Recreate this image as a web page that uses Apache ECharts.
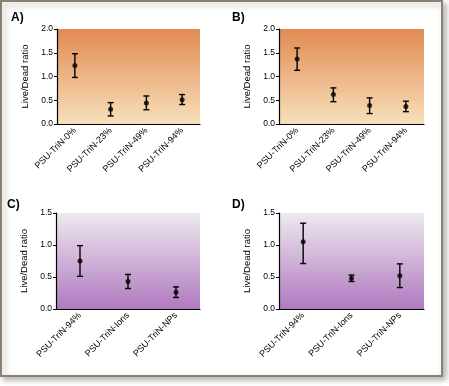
<!DOCTYPE html>
<html><head><meta charset="utf-8">
<script src="https://cdn.jsdelivr.net/npm/echarts@6/dist/echarts.min.js"></script>
<style>html,body{margin:0;padding:0;background:#fff}#c{width:449px;height:386px}</style>
</head><body><div id="c"></div>
<script>
// ---- Data ----
const catsAB = ['PSU-TriN-0%', 'PSU-TriN-23%', 'PSU-TriN-49%', 'PSU-TriN-94%'];
const catsCD = ['PSU-TriN-94%', 'PSU-TriN-Ions', 'PSU-TriN-NPs'];
const meanA = [1.23, 0.31, 0.44, 0.51];
const lowA  = [0.98, 0.17, 0.30, 0.41];
const highA = [1.48, 0.45, 0.59, 0.62];
const meanB = [1.37, 0.62, 0.39, 0.37];
const lowB  = [1.13, 0.47, 0.22, 0.26];
const highB = [1.60, 0.76, 0.55, 0.48];
const meanC = [0.75, 0.43, 0.26];
const lowC  = [0.51, 0.32, 0.18];
const highC = [0.99, 0.54, 0.345];
const meanD = [1.05, 0.48, 0.52];
const lowD  = [0.71, 0.43, 0.335];
const highD = [1.34, 0.53, 0.705];
const yTicksAB = [0, 0.5, 1.0, 1.5, 2.0];
const yTicksCD = [0, 0.5, 1.0, 1.5];
const panelLabels = ['A)', 'B)', 'C)', 'D)'];

const FONT = '"Liberation Sans", Arial, sans-serif';
const orangeGrad = {type:'linear',x:0,y:0,x2:0,y2:1,colorStops:[{offset:0,color:'#e28b52'},{offset:1,color:'#f7e0bb'}]};
const purpleGrad = {type:'linear',x:0,y:0,x2:0,y2:1,colorStops:[{offset:0,color:'#eee9ef'},{offset:1,color:'#b079bf'}]};

const panels = [
  {cats:catsAB, mean:meanA, low:lowA, high:highA, ticks:yTicksAB, grid:{left:57,top:29,width:143,height:95}, bg:orangeGrad, label:{x:11,y:12}},
  {cats:catsAB, mean:meanB, low:lowB, high:highB, ticks:yTicksAB, grid:{left:279,top:29,width:145,height:95}, bg:orangeGrad, label:{x:232,y:12}},
  {cats:catsCD, mean:meanC, low:lowC, high:highC, ticks:yTicksCD, grid:{left:56,top:213,width:144,height:96}, bg:purpleGrad, label:{x:7,y:199}},
  {cats:catsCD, mean:meanD, low:lowD, high:highD, ticks:yTicksCD, grid:{left:279,top:213,width:145,height:96}, bg:purpleGrad, label:{x:232,y:199}}
];

const grids = [], xAxes = [], yAxes = [], series = [], graphics = [];
graphics.push({type:'rect', z:-10, shape:{x:1,y:1,width:441,height:375}, style:{fill:'#fff', stroke:'#8d8071', lineWidth:2, shadowBlur:6, shadowOffsetX:3, shadowOffsetY:3, shadowColor:'rgba(0,0,0,0.3)'}});

panels.forEach((p, i) => {
  grids.push(Object.assign({show:true, borderWidth:0, backgroundColor:p.bg}, p.grid));
  xAxes.push({type:'category', gridIndex:i, data:p.cats, boundaryGap:true,
    axisLine:{lineStyle:{color:'#000',width:1.2}},
    axisTick:{alignWithLabel:true, length:3, lineStyle:{color:'#000'}},
    axisLabel:{rotate:45, fontSize:9, color:'#000', fontFamily:FONT, margin:5, interval:0}});
  const mx = p.ticks[p.ticks.length-1];
  yAxes.push({type:'value', gridIndex:i, min:0, max:mx, interval:0.5,
    name:'Live/Dead ratio', nameLocation:'middle', nameRotate:90, nameGap:27,
    nameTextStyle:{fontSize:9.5, color:'#000', fontFamily:FONT},
    splitLine:{show:false},
    axisLine:{show:true, lineStyle:{color:'#000',width:1.2}},
    axisTick:{show:true, length:3, lineStyle:{color:'#000'}},
    axisLabel:{fontSize:8.5, color:'#000', fontFamily:FONT, margin:4, formatter:v=>v.toFixed(1)}});
  const errData = p.cats.map((c, k) => [k, p.mean[k], p.low[k], p.high[k]]);
  series.push({type:'custom', xAxisIndex:i, yAxisIndex:i, data:errData, encode:{x:0,y:[1,2,3]},
    renderItem:(params, api) => {
      const x = api.value(0);
      const lo = api.coord([x, api.value(2)]);
      const hi = api.coord([x, api.value(3)]);
      const w = 3;
      const st = {stroke:'#000', lineWidth:1.4};
      return {type:'group', children:[
        {type:'line', shape:{x1:lo[0],y1:lo[1],x2:hi[0],y2:hi[1]}, style:st},
        {type:'line', shape:{x1:lo[0]-w,y1:lo[1],x2:lo[0]+w,y2:lo[1]}, style:st},
        {type:'line', shape:{x1:hi[0]-w,y1:hi[1],x2:hi[0]+w,y2:hi[1]}, style:st}
      ]};
    }, z:3});
  series.push({type:'scatter', xAxisIndex:i, yAxisIndex:i, data:p.mean.map((m,k)=>[k,m]), symbol:'circle', symbolSize:5, itemStyle:{color:'#000'}, z:4});
  graphics.push({type:'text', left:p.label.x, top:p.label.y, style:{text:panelLabels[i], font:'bold 12px '+FONT, fill:'#000'}});
});

const chart = echarts.init(document.getElementById('c'), null, {renderer:'canvas'});
chart.setOption({animation:false, grid:grids, xAxis:xAxes, yAxis:yAxes, series:series, graphic:graphics});
</script></body></html>
